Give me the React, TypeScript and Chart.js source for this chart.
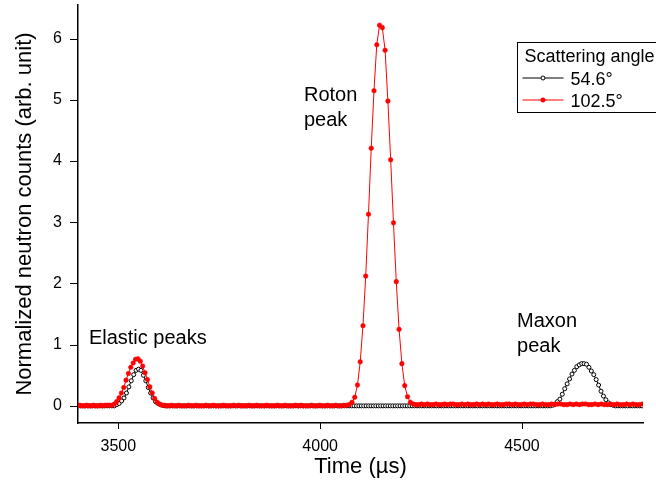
import { useEffect, useRef } from "react";
import { Chart, registerables } from "chart.js";

Chart.register(...registerables);

const FONT = "'Liberation Sans', Arial, Helvetica, sans-serif";

// Axis ranges and tick spacing
const TIME_MIN = 3400;
const TIME_MAX = 4800;
const TIME_TICK_STEP = 250;
const TIME_LABEL_STEP = 500;
const COUNTS_MIN = -0.28;
const COUNTS_MAX = 6.55;
const COUNTS_TICK_STEP = 0.5;

// 54.6° bank: uniform 6 µs time-of-flight bins from 3400 µs
const BANK_A_START = 3400;
const BANK_A_STEP = 6;
const BANK_A_COUNTS = [
  0, 0, 0, 0, 0, 0, 0, 0, 0, 0, 0, 0, 0, 0, 0, 0, 0.02, 0.04, 0.08, 0.13,
  0.21, 0.31, 0.41, 0.51, 0.58, 0.6, 0.58, 0.5, 0.41, 0.3, 0.21, 0.13, 0.07, 0.04, 0.02, 0.01, 0, 0, 0, 0,
  0, 0, 0, 0, 0, 0, 0, 0, 0, 0, 0, 0, 0, 0, 0, 0, 0, 0, 0, 0,
  0, 0, 0, 0, 0, 0, 0, 0, 0, 0, 0, 0, 0, 0, 0, 0, 0, 0, 0, 0,
  0, 0, 0, 0, 0, 0, 0, 0, 0, 0, 0, 0, 0, 0, 0, 0, 0, 0, 0, 0,
  0, 0, 0, 0, 0, 0, 0, 0, 0, 0, 0, 0, 0, 0, 0, 0, 0, 0, 0, 0,
  0, 0, 0, 0, 0, 0, 0, 0, 0, 0, 0, 0, 0, 0, 0, 0, 0, 0, 0, 0,
  0, 0, 0, 0, 0, 0, 0, 0, 0, 0, 0, 0, 0, 0, 0, 0, 0, 0, 0, 0,
  0, 0, 0, 0, 0, 0, 0, 0, 0, 0, 0, 0, 0, 0, 0, 0, 0, 0, 0, 0,
  0, 0, 0, 0, 0, 0, 0, 0, 0, 0, 0, 0, 0, 0, 0, 0, 0.01, 0.03, 0.07, 0.11,
  0.19, 0.28, 0.36, 0.44, 0.52, 0.58, 0.64, 0.67, 0.69, 0.69, 0.68, 0.63, 0.57, 0.51, 0.43, 0.34, 0.24, 0.16, 0.1, 0.05,
  0.02, 0.01, 0, 0, 0, 0, 0, 0, 0, 0, 0, 0, 0, 0,
];

// 102.5° bank: logarithmic bins (constant dt/t) starting at 3398.7 µs
const BANK_B_START = 3398.7;
const BANK_B_RATIO = 1.00166;
const BANK_B_COUNTS = [
  0, 0.01, 0, 0, 0.01, 0, 0, 0.01, 0, 0, 0.01, 0, 0.01, 0.01, 0.01, 0.01, 0.03, 0.07, 0.13, 0.21,
  0.3, 0.42, 0.53, 0.63, 0.7, 0.76, 0.77, 0.73, 0.65, 0.54, 0.43, 0.31, 0.21, 0.12, 0.06, 0.03, 0.01, 0.01, 0, 0,
  0.01, 0, 0, 0.01, 0, 0, 0, 0.01, 0, 0, 0.01, 0, 0, 0, 0.01, 0, 0, 0.01, 0, 0,
  0, 0.01, 0, 0, 0, 0.01, 0, 0.01, 0, 0, 0, 0.01, 0, 0, 0.01, 0, 0, 0, 0.01, 0,
  0, 0, 0.01, 0, 0, 0.01, 0, 0, 0, 0.01, 0, 0.01, 0, 0, 0, 0.01, 0, 0, 0.01, 0,
  0, 0.01, 0, 0, 0.01, 0, 0, 0.01, 0.01, 0.02, 0.06, 0.14, 0.34, 0.72, 1.31, 2.12, 3.13, 4.21, 5.15, 5.9,
  6.22, 6.18, 5.81, 4.98, 4.02, 2.99, 2.03, 1.25, 0.69, 0.33, 0.15, 0.06, 0.03, 0.02, 0.02, 0.03, 0.02, 0.03, 0.02, 0.02,
  0.03, 0.02, 0.02, 0.03, 0.02, 0.03, 0.03, 0.02, 0.02, 0.03, 0.02, 0.03, 0.02, 0.02, 0.03, 0.02, 0.03, 0.02, 0.03, 0.02,
  0.02, 0.03, 0.02, 0.02, 0.03, 0.03, 0.02, 0.03, 0.02, 0.02, 0.03, 0.02, 0.03, 0.03, 0.02, 0.02, 0.03, 0.02, 0.02, 0.03,
  0.02, 0.03, 0.03, 0.02, 0.02, 0.03, 0.02, 0.03, 0.02, 0.03, 0.03, 0.02, 0.02, 0.03, 0.02, 0.03, 0.02, 0.02, 0.03, 0.02,
  0.03, 0.02, 0.02, 0.03, 0.02, 0.03, 0.02, 0.02, 0.03, 0.02,
];

const SERIES_LABELS = ["54.6°", "102.5°"];
const SERIES_COLORS = ["#000000", "#ff0000"];
const LEGEND_TITLE = "Scattering angle";
const X_TITLE = "Time (µs)";
const Y_TITLE = "Normalized neutron counts (arb. unit)";

// Peak labels anchored in data space (time, counts at first baseline)
const PEAK_LABELS = [
  { lines: ["Elastic peaks"], time: 3427, counts: 1.01 },
  { lines: ["Roton", "peak"], time: 3960, counts: 4.98 },
  { lines: ["Maxon", "peak"], time: 4488, counts: 1.29 },
];

const isMultiple = (v: number, step: number) =>
  Math.abs(v / step - Math.round(v / step)) < 1e-6;

const decorations = {
  id: "decorations",
  afterDraw(chart: any) {
    const { ctx, chartArea: area } = chart;
    const xs = chart.scales.x;
    const ys = chart.scales.y;
    ctx.save();
    ctx.strokeStyle = "#000";
    ctx.lineWidth = 1;

    // outward tick marks
    for (const t of xs.ticks) {
      const px = Math.round(xs.getPixelForValue(t.value)) + 0.5;
      const len = isMultiple(t.value, TIME_LABEL_STEP) ? 6 : 5;
      ctx.beginPath();
      ctx.moveTo(px, area.bottom);
      ctx.lineTo(px, area.bottom + len);
      ctx.stroke();
    }
    for (const t of ys.ticks) {
      const py = Math.round(ys.getPixelForValue(t.value)) + 0.5;
      const len = isMultiple(t.value, 1) ? 8 : 5;
      ctx.beginPath();
      ctx.moveTo(area.left, py);
      ctx.lineTo(area.left - len, py);
      ctx.stroke();
    }

    // peak labels
    ctx.fillStyle = "#000";
    ctx.font = `20px ${FONT}`;
    ctx.textAlign = "left";
    ctx.textBaseline = "alphabetic";
    for (const a of PEAK_LABELS) {
      const x = xs.getPixelForValue(a.time);
      const y = ys.getPixelForValue(a.counts);
      a.lines.forEach((line, i) => ctx.fillText(line, x, y + i * 25));
    }

    // legend box
    const lx = 517.5;
    const ly = 42.5;
    ctx.strokeRect(lx, ly, 200, 70);
    ctx.font = `18px ${FONT}`;
    ctx.fillText(LEGEND_TITLE, lx + 7, ly + 19.2);
    const metas = [chart.getDatasetMeta(1), chart.getDatasetMeta(0)];
    SERIES_LABELS.forEach((label, i) => {
      const cy = ly + 35.5 + i * 22;
      const ds = chart.data.datasets[metas[i].index];
      ctx.strokeStyle = SERIES_COLORS[i];
      ctx.lineWidth = 1;
      ctx.beginPath();
      ctx.moveTo(lx + 5, cy);
      ctx.lineTo(lx + 46, cy);
      ctx.stroke();
      ctx.beginPath();
      ctx.arc(lx + 25.5, cy, ds.pointRadius, 0, Math.PI * 2);
      ctx.fillStyle = ds.pointBackgroundColor;
      ctx.fill();
      ctx.lineWidth = ds.pointBorderWidth;
      ctx.strokeStyle = ds.pointBorderColor;
      ctx.stroke();
      ctx.fillStyle = "#000";
      ctx.fillText(label, lx + 53, cy + 6.5);
    });
    ctx.restore();
  },
};

export default function App() {
  const canvasRef = useRef<HTMLCanvasElement | null>(null);

  useEffect(() => {
    const canvas = canvasRef.current;
    if (!canvas) return;

    const bankA = BANK_A_COUNTS.map((v, i) => ({ x: BANK_A_START + i * BANK_A_STEP, y: v }));
    const bankB = BANK_B_COUNTS.map((v, i) => ({ x: BANK_B_START * Math.pow(BANK_B_RATIO, i), y: v }));

    const zeroPadding = (s: any) => {
      s.paddingLeft = 0;
      s.paddingRight = 0;
      s.paddingTop = 0;
      s.paddingBottom = 0;
    };

    const chart = new Chart(canvas, {
      type: "line",
      data: {
        datasets: [
          {
            label: SERIES_LABELS[1],
            data: bankB,
            borderColor: SERIES_COLORS[1],
            borderWidth: 1,
            pointRadius: 2.3,
            pointBackgroundColor: SERIES_COLORS[1],
            pointBorderColor: SERIES_COLORS[1],
            pointBorderWidth: 0.5,
            tension: 0,
            clip: 0,
          },
          {
            label: SERIES_LABELS[0],
            data: bankA,
            borderColor: SERIES_COLORS[0],
            borderWidth: 1,
            pointRadius: 2,
            pointBackgroundColor: "#ffffff",
            pointBorderColor: SERIES_COLORS[0],
            pointBorderWidth: 1,
            tension: 0,
            clip: 0,
          },
        ],
      },
      options: {
        animation: false,
        responsive: false,
        devicePixelRatio: 1,
        layout: { padding: { top: 5, right: 13, left: 0, bottom: 0 } },
        plugins: { legend: { display: false }, tooltip: { enabled: false } },
        scales: {
          x: {
            type: "linear",
            min: TIME_MIN,
            max: TIME_MAX,
            grid: { display: false, drawTicks: false },
            border: { display: true, color: "#000", width: 1.5 },
            ticks: {
              stepSize: TIME_TICK_STEP,
              includeBounds: false,
              autoSkip: false,
              maxRotation: 0,
              padding: 14.4,
              color: "#000",
              font: { family: FONT, size: 16 },
              callback: (v: any) => (isMultiple(Number(v), TIME_LABEL_STEP) ? String(v) : null),
            },
            title: {
              display: true,
              text: X_TITLE,
              color: "#000",
              font: { family: FONT, size: 22 },
              padding: { top: 0, bottom: 4.4 },
            },
            afterFit: (s: any) => {
              s.height = 62;
              zeroPadding(s);
            },
          },
          y: {
            type: "linear",
            min: COUNTS_MIN,
            max: COUNTS_MAX,
            grid: { display: false, drawTicks: false },
            border: { display: true, color: "#000", width: 1.5 },
            ticks: {
              stepSize: COUNTS_TICK_STEP,
              includeBounds: false,
              autoSkip: false,
              padding: 16,
              color: "#000",
              font: { family: FONT, size: 16 },
              callback: (v: any) => (isMultiple(Number(v), 1) ? String(Math.round(Number(v))) : null),
            },
            title: {
              display: true,
              text: Y_TITLE,
              color: "#000",
              font: { family: FONT, size: 22 },
              padding: { top: 12.2, bottom: 0 },
            },
            afterFit: (s: any) => {
              s.width = 78;
              zeroPadding(s);
            },
          },
        },
      },
      plugins: [decorations],
    });

    return () => chart.destroy();
  }, []);

  return (
    <div style={{ position: "fixed", left: 0, top: 0, width: 656, height: 485, overflow: "hidden", background: "#fff" }}>
      <canvas ref={canvasRef} width={656} height={485} style={{ display: "block" }} />
    </div>
  );
}
